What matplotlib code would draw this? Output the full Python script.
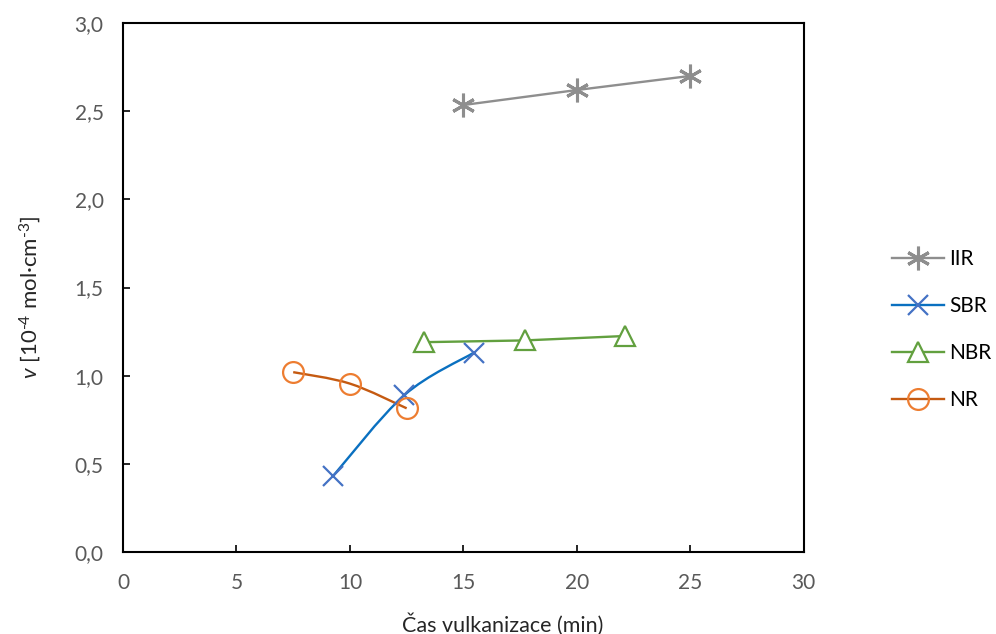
# %% Biblioteki
import matplotlib
matplotlib.use("Agg")
import matplotlib.pyplot as plt
from matplotlib.path import Path
from matplotlib.patches import PathPatch
from matplotlib.lines import Line2D
from matplotlib.ticker import FuncFormatter, MultipleLocator

# %% Dane
serie = ["IIR", "SBR", "NBR", "NR"]
iir_x = [15, 20, 25]
iir_y = [2.535, 2.62, 2.70]
sbr_x = [9.25, 12.4, 15.45]
sbr_y = [0.43, 0.89, 1.13]
nbr_x = [13.25, 17.7, 22.1]
nbr_y = [1.19, 1.20, 1.225]
nr_x = [7.5, 10.0, 12.5]
nr_y = [1.02, 0.955, 0.815]

plt.rcParams["font.family"] = ["Lato", "DejaVu Sans"]
plt.rcParams["mathtext.fontset"] = "custom"
plt.rcParams["mathtext.rm"] = "Lato"
plt.rcParams["mathtext.it"] = "Lato:italic"


# %% Wygładzona linia jak w Excelu (krzywe Beziera)
def wygladzona(ax, xs, ys, kolor, lw):
    pts = list(zip(xs, ys))
    n = len(pts)
    verts = [pts[0]]
    codes = [Path.MOVETO]
    for i in range(n - 1):
        p0 = pts[max(i - 1, 0)]
        p1 = pts[i]
        p2 = pts[i + 1]
        p3 = pts[min(i + 2, n - 1)]
        c1 = (p1[0] + (p2[0] - p0[0]) / 6, p1[1] + (p2[1] - p0[1]) / 6)
        c2 = (p2[0] - (p3[0] - p1[0]) / 6, p2[1] - (p3[1] - p1[1]) / 6)
        verts += [c1, c2, p2]
        codes += [Path.CURVE4] * 3
    ax.add_patch(PathPatch(Path(verts, codes), facecolor="none",
                           edgecolor=kolor, lw=lw, zorder=2))


# %% Wykres
fig = plt.figure(figsize=(9.96, 6.34), dpi=100)
ax = fig.add_axes([0.1235, 0.1293, 0.6835, 0.8344])

lw = 1.7
ms = 15
mew = 1.6
gwiazda = (6, 2, 0)

# IIR
ax.plot(iir_x, iir_y, color="#8E8E8E", lw=lw, zorder=2)
ax.plot(iir_x, iir_y, ls="none", marker=gwiazda, ms=17, mew=2.2,
        color="#8E8E8E", zorder=3)
# SBR
wygladzona(ax, sbr_x, sbr_y, "#0A70C0", lw)
ax.plot(sbr_x, sbr_y, ls="none", marker="x", ms=ms, mew=mew,
        color="#4472C4", zorder=3)
# NBR
ax.plot(nbr_x, nbr_y, color="#62A03F", lw=lw, zorder=2)
ax.plot(nbr_x, nbr_y, ls="none", marker="^", ms=ms, mew=mew,
        mfc="white", mec="#62A03F", zorder=3)
# NR
wygladzona(ax, nr_x, nr_y, "#C55A11", lw)
ax.plot(nr_x, nr_y, ls="none", marker="o", ms=ms, mew=mew,
        mfc="none", mec="#ED7D31", zorder=3)

ax.set_xlim(0, 30)
ax.set_ylim(0, 3.0)
ax.xaxis.set_major_locator(MultipleLocator(5))
ax.yaxis.set_major_locator(MultipleLocator(0.5))
ax.yaxis.set_major_formatter(FuncFormatter(lambda v, p: f"{v:.1f}".replace(".", ",")))
ax.tick_params(direction="in", length=5, width=1.2, colors="black",
               labelcolor="#595959", labelsize=15)
ax.tick_params(axis="x", pad=15)
ax.tick_params(axis="y", pad=14)
for s in ax.spines.values():
    s.set_linewidth(1.5)
    s.set_color("black")

ax.set_xlabel("Čas vulkanizace (min)", fontsize=15.5, color="#262626", labelpad=12)
ax.xaxis.set_label_coords(0.558, -0.115)
ax.set_ylabel(r"$\it{v}$ [10$^{\text{-}4}$ mol·cm$^{\text{-}3}$]", fontsize=16,
              color="#262626")
ax.yaxis.set_label_coords(-0.117, 0.482)

# %% Legenda
uchwyty = [
    Line2D([], [], color="#8E8E8E", lw=lw, marker=gwiazda, ms=17, mew=2.2),
    Line2D([], [], color="#0A70C0", lw=lw, marker="x", ms=ms, mew=mew, mec="#4472C4"),
    Line2D([], [], color="#62A03F", lw=lw, marker="^", ms=ms, mew=mew, mfc="white"),
    Line2D([], [], color="#C55A11", lw=lw, marker="o", ms=ms, mew=mew, mfc="none", mec="#ED7D31"),
]
fig.legend(uchwyty, serie, loc="center left", bbox_to_anchor=(0.889, 0.48),
           frameon=False, fontsize=15, handlelength=2.5, labelspacing=1.3,
           handletextpad=0.25, borderpad=0.2, borderaxespad=0.1)

fig.savefig("out.png", dpi=100)
